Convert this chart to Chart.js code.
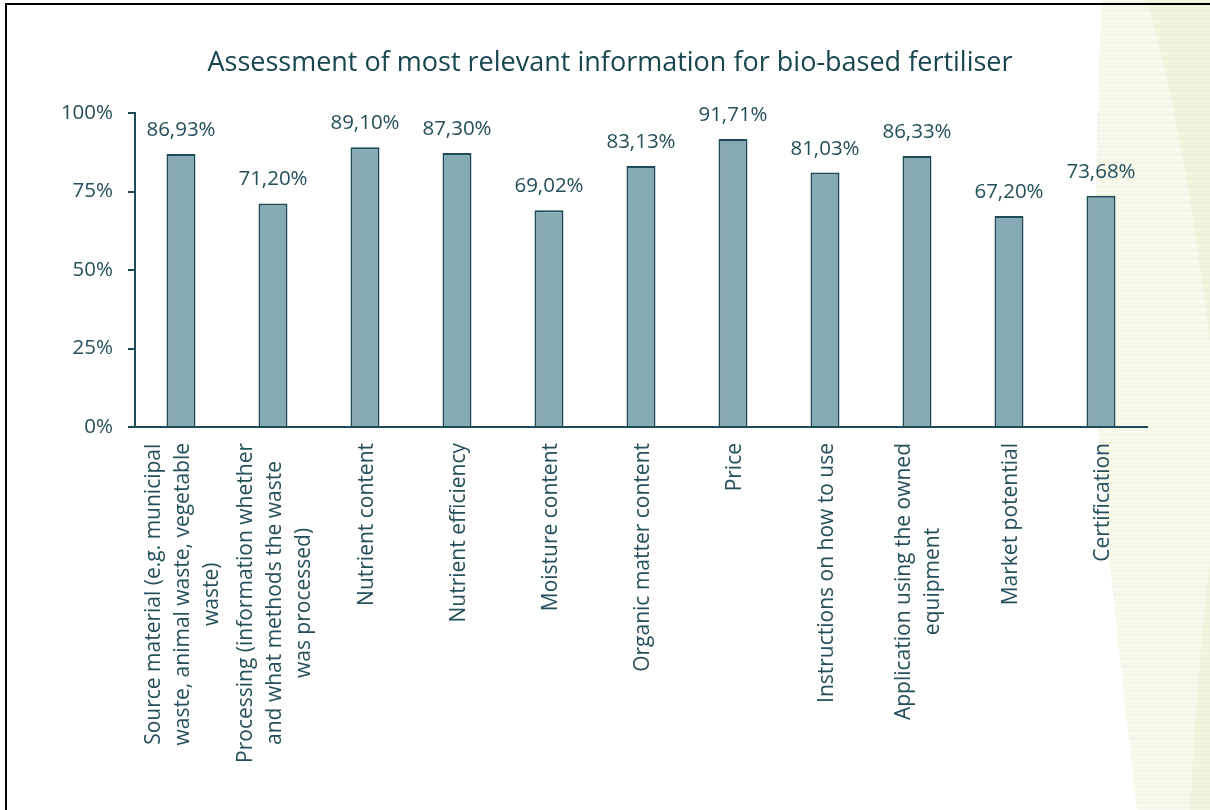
<!DOCTYPE html>
<html>
<head>
<meta charset="utf-8">
<title>Bio-based fertiliser information</title>
<script src="https://cdn.jsdelivr.net/npm/chart.js@4.4.1/dist/chart.umd.min.js"></script>
<style>
    html, body { margin: 0; padding: 0; background: #ffffff; }
    #wrap { width: 1210px; height: 810px; }
</style>
</head>
<body>
<div id="wrap">
    <canvas id="infoChart" width="1210" height="810"></canvas>
</div>
<script>
// chart data
const categories = [
    ['Source material (e.g. municipal', 'waste, animal waste, vegetable', 'waste)'],
    ['Processing (information whether', 'and what methods the waste', 'was processed)'],
    ['Nutrient content'],
    ['Nutrient efficiency'],
    ['Moisture content'],
    ['Organic matter content'],
    ['Price'],
    ['Instructions on how to use'],
    ['Application using the owned', 'equipment'],
    ['Market potential'],
    ['Certification']
];
const values = [86.93, 71.20, 89.10, 87.30, 69.02, 83.13, 91.71, 81.03, 86.33, 67.20, 73.68];
const yTicks = [0, 25, 50, 75, 100];
const titleText = 'Assessment of most relevant information for bio-based fertiliser';

const FONT = '"Open Sans", "Segoe UI", sans-serif';
const TEXT_COLOR = '#244f5b';
const BAR_FILL = '#87abb4';
const BAR_EDGE = '#1d4b57';

// 1,23% style number
function pct(v) {
    return v.toFixed(2).replace('.', ',') + '%';
}

// decorative green panel on the right edge
const backdropPlugin = {
    id: 'backdrop',
    beforeDraw(chart) {
        const ctx = chart.ctx;
        ctx.save();
        ctx.fillStyle = '#ffffff';
        ctx.fillRect(0, 0, chart.width, chart.height);

        // light band
        ctx.beginPath();
        ctx.moveTo(1102, 0);
        ctx.lineTo(1210, 0);
        ctx.lineTo(1210, 810);
        ctx.lineTo(1137, 810);
        ctx.quadraticCurveTo(1108, 560, 1098, 433);
        ctx.bezierCurveTo(1094, 330, 1094, 150, 1102, 0);
        ctx.closePath();
        ctx.fillStyle = '#f7f9ed';
        ctx.fill();

        // stripes inside the light band
        ctx.save();
        ctx.clip();
        ctx.strokeStyle = 'rgba(214, 228, 170, 0.25)';
        ctx.lineWidth = 1;
        for (let y = 2.5; y < 810; y += 8) {
            ctx.beginPath();
            ctx.moveTo(1090, y);
            ctx.lineTo(1210, y);
            ctx.stroke();
        }
        ctx.restore();

        // slightly darker sweep at the top right
        ctx.beginPath();
        ctx.moveTo(1147, 0);
        ctx.lineTo(1210, 0);
        ctx.lineTo(1210, 340);
        ctx.quadraticCurveTo(1180, 110, 1147, 0);
        ctx.closePath();
        ctx.fillStyle = 'rgba(226, 236, 196, 0.3)';
        ctx.fill();

        // slightly darker sweep at the bottom right
        ctx.beginPath();
        ctx.moveTo(1210, 560);
        ctx.lineTo(1210, 810);
        ctx.lineTo(1190, 810);
        ctx.quadraticCurveTo(1198, 660, 1210, 560);
        ctx.closePath();
        ctx.fillStyle = 'rgba(226, 236, 196, 0.3)';
        ctx.fill();
        ctx.restore();
    },
    afterDraw(chart) {
        // frame lines on the left and top
        const ctx = chart.ctx;
        ctx.save();
        ctx.strokeStyle = '#000000';
        ctx.lineWidth = 2;
        ctx.beginPath();
        ctx.moveTo(6, 810);
        ctx.lineTo(6, 4);
        ctx.lineTo(1210, 4);
        ctx.stroke();
        ctx.restore();
    }
};

// value above each bar
const valueLabelPlugin = {
    id: 'valueLabels',
    afterDatasetsDraw(chart) {
        const ctx = chart.ctx;
        const meta = chart.getDatasetMeta(0);
        ctx.save();
        ctx.font = '20.5px ' + FONT;
        ctx.fillStyle = TEXT_COLOR;
        ctx.textAlign = 'center';
        ctx.textBaseline = 'alphabetic';
        meta.data.forEach((bar, i) => {
            ctx.fillText(pct(values[i]), bar.x, bar.y - 18);
        });
        ctx.restore();
    }
};

// rotated category names, lines centred on each other
const categoryLabelPlugin = {
    id: 'categoryLabels',
    afterDraw(chart) {
        const ctx = chart.ctx;
        const xScale = chart.scales.x;
        const top = xScale.top + 16;
        const lineHeight = 29;
        ctx.save();
        ctx.font = '21px ' + FONT;
        ctx.fillStyle = TEXT_COLOR;
        ctx.textAlign = 'center';
        ctx.textBaseline = 'middle';
        categories.forEach((lines, i) => {
            const cx = xScale.getPixelForValue(i) + 2;
            const widest = Math.max(...lines.map(l => ctx.measureText(l).width));
            ctx.save();
            ctx.translate(cx, top);
            ctx.rotate(-Math.PI / 2);
            lines.forEach((line, j) => {
                const offset = (j - (lines.length - 1) / 2) * lineHeight;
                ctx.fillText(line, -widest / 2, offset);
            });
            ctx.restore();
        });
        ctx.restore();
    }
};

new Chart(document.getElementById('infoChart'), {
    type: 'bar',
    data: {
        labels: categories,
        datasets: [{
            data: values,
            backgroundColor: BAR_FILL,
            borderColor: BAR_EDGE,
            borderWidth: 2,
            barPercentage: 0.315,
            categoryPercentage: 1
        }]
    },
    options: {
        responsive: false,
        animation: false,
        layout: {
            padding: { left: 10, right: 0, top: 0, bottom: 383 }
        },
        plugins: {
            legend: { display: false },
            tooltip: { enabled: false },
            title: {
                display: true,
                text: titleText,
                color: '#17464f',
                font: { family: FONT, size: 27, weight: 'normal' },
                padding: { top: 47, bottom: 33.6 }
            }
        },
        scales: {
            x: {
                grid: { display: false, drawTicks: false },
                border: { display: true, color: BAR_EDGE, width: 2 },
                ticks: { display: false }
            },
            y: {
                min: 0,
                max: 100,
                afterFit(scale) { scale.width = 125; },
                afterBuildTicks(scale) {
                    scale.ticks = yTicks.map(v => ({ value: v }));
                },
                grid: {
                    drawOnChartArea: false,
                    drawTicks: true,
                    tickLength: 7,
                    color: BAR_EDGE,
                    lineWidth: 2
                },
                border: { display: true, color: BAR_EDGE, width: 2 },
                ticks: {
                    padding: 15,
                    color: TEXT_COLOR,
                    font: { family: FONT, size: 20.5 },
                    callback: v => v + '%'
                }
            },
            // empty strip on the right, keeps the plot clear of the green panel
            spacer: {
                position: 'right',
                display: true,
                afterFit(scale) { scale.width = 63; },
                grid: { display: false },
                border: { display: false },
                ticks: { display: false }
            }
        }
    },
    plugins: [backdropPlugin, valueLabelPlugin, categoryLabelPlugin]
});
</script>
</body>
</html>
